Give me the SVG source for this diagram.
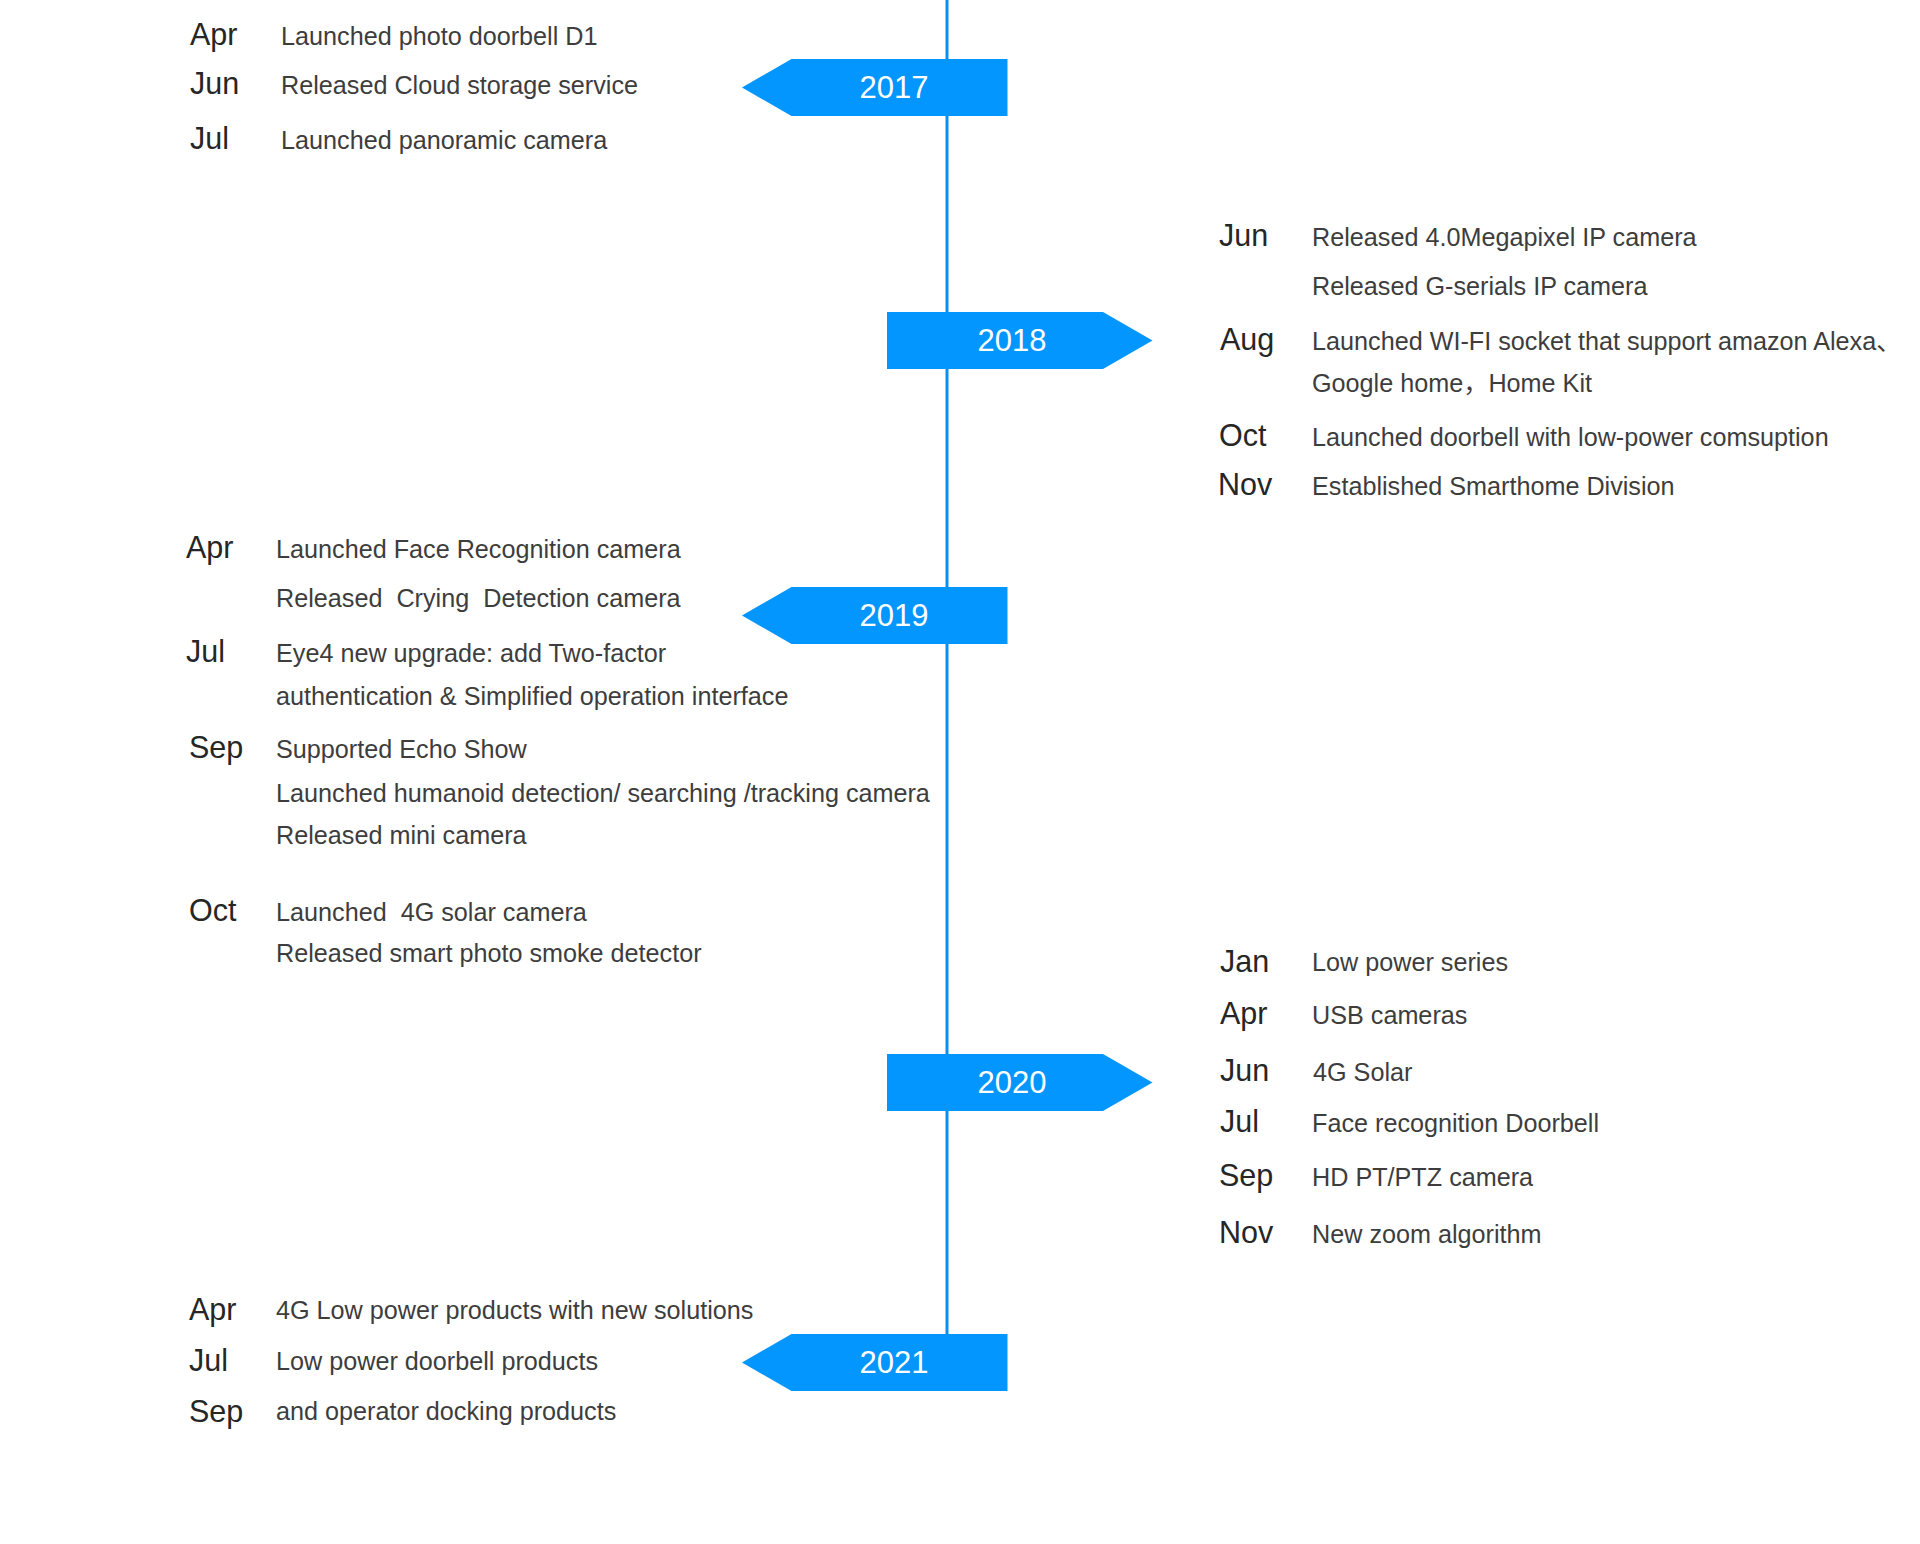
<svg xmlns="http://www.w3.org/2000/svg" width="1920" height="1544" viewBox="0 0 1920 1544">
<style>
.bg{fill:#ffffff}
.box{fill:#0396fe}
.yr{font-family:"Liberation Sans","Noto Sans",sans-serif;font-size:31px;fill:#ffffff;text-anchor:middle}
.mo{font-family:"Liberation Sans","Noto Sans",sans-serif;font-size:30.5px;fill:#262626}
.ds{font-family:"Liberation Sans","Noto Sans CJK SC",sans-serif;font-size:25.2px;fill:#3d3d3d;white-space:pre}
.ln{stroke:#0a8ff2;stroke-width:3;fill:none}
</style>
<defs>
<path id="pl" d="M0,28.5 L49.5,0 L265.5,0 L265.5,57 L49.5,57 Z"/>
<path id="pr" d="M0,0 L216,0 L265.5,28.5 L216,57 L0,57 Z"/>
</defs>
<rect class="bg" x="0" y="0" width="1920" height="1544"/>
<g id="connectors">
<line class="ln" x1="947" y1="0" x2="947" y2="1336"/>
</g>
<g id="y2017"><use href="#pl" class="box" x="742" y="59"/><text class="yr" x="894" y="98">2017</text></g>
<g id="y2018"><use href="#pr" class="box" x="887" y="312"/><text class="yr" x="1012" y="351">2018</text></g>
<g id="y2019"><use href="#pl" class="box" x="742" y="587"/><text class="yr" x="894" y="626">2019</text></g>
<g id="y2020"><use href="#pr" class="box" x="887" y="1054"/><text class="yr" x="1012" y="1093">2020</text></g>
<g id="y2021"><use href="#pl" class="box" x="742" y="1334"/><text class="yr" x="894" y="1373">2021</text></g>

<g id="e2017-apr"><text class="mo" x="190" y="45">Apr</text><text class="ds" x="281" y="45">Launched photo doorbell D1</text></g>
<g id="e2017-jun"><text class="mo" x="190" y="94">Jun</text><text class="ds" x="281" y="94">Released Cloud storage service</text></g>
<g id="e2017-jul"><text class="mo" x="190" y="149">Jul</text><text class="ds" x="281" y="149">Launched panoramic camera</text></g>

<g id="e2018-jun"><text class="mo" x="1219" y="246">Jun</text><text class="ds" x="1312" y="246">Released 4.0Megapixel IP camera</text><text class="ds" x="1312" y="295">Released G-serials IP camera</text></g>
<g id="e2018-aug"><text class="mo" x="1220" y="350">Aug</text><text class="ds" x="1312" y="350">Launched WI-FI socket that support amazon Alexa、</text><text class="ds" x="1312" y="392">Google home，Home Kit</text></g>
<g id="e2018-oct"><text class="mo" x="1219" y="446">Oct</text><text class="ds" x="1312" y="446">Launched doorbell with low-power comsuption</text></g>
<g id="e2018-nov"><text class="mo" x="1218" y="495">Nov</text><text class="ds" x="1312" y="495">Established Smarthome Division</text></g>

<g id="e2019-apr"><text class="mo" x="186" y="558">Apr</text><text class="ds" x="276" y="558">Launched Face Recognition camera</text><text class="ds" x="276" y="607" xml:space="preserve">Released  Crying  Detection camera</text></g>
<g id="e2019-jul"><text class="mo" x="186" y="662">Jul</text><text class="ds" x="276" y="662">Eye4 new upgrade: add Two-factor</text><text class="ds" x="276" y="705">authentication &amp; Simplified operation interface</text></g>
<g id="e2019-sep"><text class="mo" x="189" y="758">Sep</text><text class="ds" x="276" y="758">Supported Echo Show</text><text class="ds" x="276" y="802">Launched humanoid detection/ searching /tracking camera</text><text class="ds" x="276" y="844">Released mini camera</text></g>
<g id="e2019-oct"><text class="mo" x="189" y="921">Oct</text><text class="ds" x="276" y="921" xml:space="preserve">Launched  4G solar camera</text><text class="ds" x="276" y="962">Released smart photo smoke detector</text></g>

<g id="e2020-jan"><text class="mo" x="1220" y="972">Jan</text><text class="ds" x="1312" y="971">Low power series</text></g>
<g id="e2020-apr"><text class="mo" x="1220" y="1024">Apr</text><text class="ds" x="1312" y="1024">USB cameras</text></g>
<g id="e2020-jun"><text class="mo" x="1220" y="1081">Jun</text><text class="ds" x="1313" y="1081">4G Solar</text></g>
<g id="e2020-jul"><text class="mo" x="1220" y="1132">Jul</text><text class="ds" x="1312" y="1132">Face recognition Doorbell</text></g>
<g id="e2020-sep"><text class="mo" x="1219" y="1186">Sep</text><text class="ds" x="1312" y="1186">HD PT/PTZ camera</text></g>
<g id="e2020-nov"><text class="mo" x="1219" y="1243">Nov</text><text class="ds" x="1312" y="1243">New zoom algorithm</text></g>

<g id="e2021-apr"><text class="mo" x="189" y="1320">Apr</text><text class="ds" x="276" y="1319">4G Low power products with new solutions</text></g>
<g id="e2021-jul"><text class="mo" x="189" y="1371">Jul</text><text class="ds" x="276" y="1370">Low power doorbell products</text></g>
<g id="e2021-sep"><text class="mo" x="189" y="1422">Sep</text><text class="ds" x="276" y="1420">and operator docking products</text></g>
</svg>
